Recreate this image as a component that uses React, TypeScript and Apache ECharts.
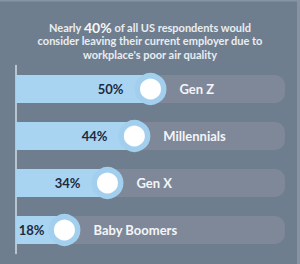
import React, { useEffect, useRef } from "react";
import * as echarts from "echarts";

const categories = ["Gen Z", "Millennials", "Gen X", "Baby Boomers"];
const values = [50, 44, 34, 18];
const titleLines = [
  "Nearly 40% of all US respondents would",
  "consider leaving their current employer due to",
  "workplace's poor air quality",
];

export default function App() {
  const ref = useRef<HTMLDivElement>(null);
  useEffect(() => {
    if (!ref.current) return;
    const chart = echarts.init(ref.current, null, { renderer: "svg" });
    const font = "Lato, 'Open Sans', sans-serif";
    const first = titleLines[0].split("40%");
    chart.setOption({
      animation: false,
      backgroundColor: "#6f7e8f",
      grid: { left: 16, right: 15, top: 65.5, bottom: 10.5 },
      xAxis: { type: "value", min: 0, max: 100, show: false },
      yAxis: {
        type: "category",
        data: categories,
        inverse: true,
        axisLine: { show: true, lineStyle: { color: "#d3dce5", width: 1.5 } },
        axisTick: { show: false },
        axisLabel: { show: false },
        splitLine: { show: false },
      },
      graphic: [
        { type: "rect", shape: { x: 297, y: 0, width: 3, height: 264 }, style: { fill: "#8593a3" } },
        { type: "rect", shape: { x: 0, y: 0, width: 300, height: 1.5 }, style: { fill: "#8593a3" } },
        {
          type: "text",
          x: 150,
          y: 27,
          style: {
            text: "{a|" + first[0] + "}{b|40%}{a|" + first[1] + "}",
            align: "center",
            verticalAlign: "middle",
            rich: {
              a: { font: "bold 11px " + font, fill: "#e9edf1" },
              b: { font: "bold 14px " + font, fill: "#f4f6f8" },
            },
          },
        },
        {
          type: "text",
          x: 150,
          y: 40.5,
          style: { text: titleLines[1], align: "center", verticalAlign: "middle", font: "bold 11px " + font, fill: "#e9edf1" },
        },
        {
          type: "text",
          x: 150,
          y: 54,
          style: { text: titleLines[2], align: "center", verticalAlign: "middle", font: "bold 11px " + font, fill: "#e9edf1" },
        },
      ],
      series: [
        {
          type: "bar",
          data: values.map((v) => ({ value: v, label: v < 25 ? { distance: 20 } : undefined })),
          barWidth: 28,
          itemStyle: { color: "#a8d4f2" },
          showBackground: true,
          backgroundStyle: { color: "#7f8899", borderRadius: [0, 10, 10, 0] },
          label: {
            show: true,
            position: "insideRight",
            distance: 27,
            formatter: "{c}%",
            color: "#1d2a3d",
            fontFamily: font,
            fontSize: 13,
            fontWeight: "bold",
          },
          z: 1,
        },
        {
          type: "scatter",
          data: values.map((v, i) => [v, categories[i]]),
          symbol: "circle",
          symbolSize: 26.5,
          itemStyle: {
            color: "#ffffff",
            borderColor: "#a3cfee",
            borderWidth: 5.5,
            opacity: 1,
          },
          label: {
            show: true,
            position: "right",
            distance: 13,
            formatter: (p: any) => p.value[1],
            color: "#f3f5f8",
            fontFamily: font,
            fontSize: 13,
            fontWeight: "bold",
          },
          z: 3,
        },
      ],
    });
    return () => chart.dispose();
  }, []);
  return <div ref={ref} style={{ position: "fixed", left: 0, top: 0, width: 300, height: 264 }} />;
}
